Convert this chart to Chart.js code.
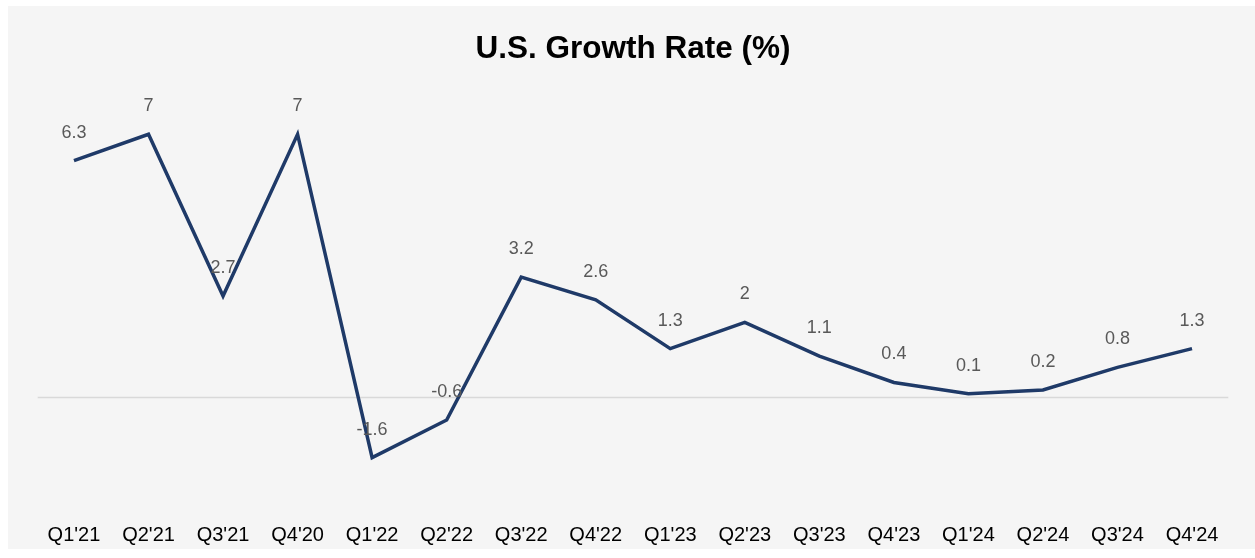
<!DOCTYPE html>
<html>
<head>
<meta charset="utf-8">
<script src="https://cdn.jsdelivr.net/npm/chart.js@4.4.1/dist/chart.umd.min.js"></script>
<style>
  html, body { margin: 0; padding: 0; background: #ffffff; }
  #wrap { position: absolute; left: 0; top: 0; width: 1255px; height: 558px; }
</style>
</head>
<body>
<div id="wrap"><canvas id="c" width="1255" height="558"></canvas></div>
<script>
const categories = ["Q1'21","Q2'21","Q3'21","Q4'20","Q1'22","Q2'22","Q3'22","Q4'22","Q1'23","Q2'23","Q3'23","Q4'23","Q1'24","Q2'24","Q3'24","Q4'24"];
const growthRate = [6.3, 7, 2.7, 7, -1.6, -0.6, 3.2, 2.6, 1.3, 2, 1.1, 0.4, 0.1, 0.2, 0.8, 1.3];
const titleText = "U.S. Growth Rate (%)";

const FONT = "'Liberation Sans', Arial, Helvetica, sans-serif";

const bgPlugin = {
  id: 'bg',
  beforeDraw(chart) {
    const ctx = chart.ctx;
    ctx.save();
    ctx.fillStyle = '#f5f5f5';
    ctx.fillRect(8, 6, 1247, 543);
    ctx.restore();
  }
};

const zeroLinePlugin = {
  id: 'zeroLine',
  beforeDatasetsDraw(chart) {
    const ctx = chart.ctx;
    const y = chart.scales.y.getPixelForValue(0);
    const a = chart.chartArea;
    ctx.save();
    ctx.strokeStyle = '#d9d9d9';
    ctx.lineWidth = 1.5;
    ctx.beginPath();
    ctx.moveTo(a.left + 1, y);
    ctx.lineTo(a.right - 1, y);
    ctx.stroke();
    ctx.restore();
  }
};

const labelPlugin = {
  id: 'valueLabels',
  afterDatasetsDraw(chart) {
    const ctx = chart.ctx;
    const meta = chart.getDatasetMeta(0);
    const data = chart.data.datasets[0].data;
    ctx.save();
    ctx.fillStyle = '#595959';
    ctx.font = '18px ' + FONT;
    ctx.textAlign = 'center';
    ctx.textBaseline = 'middle';
    meta.data.forEach((pt, i) => {
      ctx.fillText(String(data[i]), pt.x, pt.y - 28);
    });
    ctx.restore();
  }
};

new Chart(document.getElementById('c'), {
  type: 'line',
  data: {
    labels: categories,
    datasets: [{
      data: growthRate,
      borderColor: '#1f3a68',
      borderWidth: 3.5,
      pointRadius: 0,
      pointHoverRadius: 0,
      tension: 0,
      fill: false,
      borderJoinStyle: 'miter'
    }]
  },
  options: {
    responsive: false,
    animation: false,
    devicePixelRatio: 1,
    layout: { padding: { left: 36.7, right: 25.7, top: 0, bottom: 11 } },
    plugins: {
      legend: { display: false },
      tooltip: { enabled: false },
      title: {
        display: true,
        text: titleText,
        color: '#000000',
        font: { family: FONT, size: 31.5, weight: 'bold', lineHeight: 1.2 },
        padding: { top: 30.6, bottom: 28.3 }
      }
    },
    scales: {
      x: {
        offset: true,
        grid: { display: false, drawTicks: false },
        border: { display: false },
        afterFit(scale) { scale.height = 36.7; },
        ticks: {
          color: '#000000',
          font: { family: FONT, size: 20, lineHeight: 1.2 },
          padding: 12.7,
          autoSkip: false,
          maxRotation: 0,
          minRotation: 0
        }
      },
      y: {
        display: false,
        min: -3,
        max: 8
      }
    }
  },
  plugins: [bgPlugin, zeroLinePlugin, labelPlugin]
});
</script>
</body>
</html>
